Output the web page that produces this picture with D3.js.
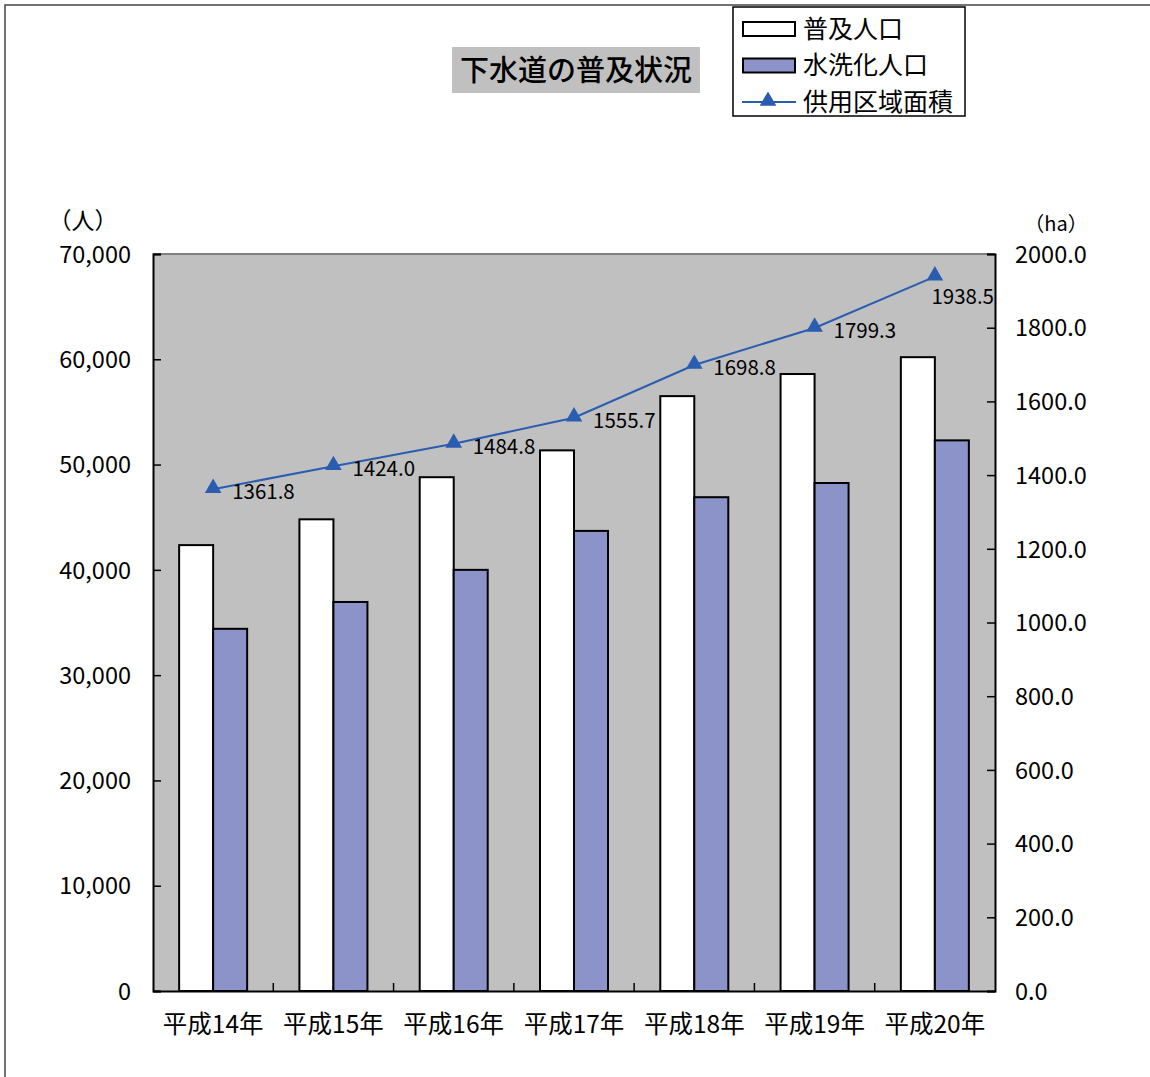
<!DOCTYPE html>
<html>
<head>
<meta charset="utf-8">
<script src="https://cdn.jsdelivr.net/npm/d3@7"></script>
<style>
  body { margin: 0; background: #fff; }
  svg text { font-family: "Noto Sans CJK JP", "Noto Sans", sans-serif; fill: #000; }
</style>
</head>
<body>
<svg width="1150" height="1077"></svg>
<script>
// data
var years = ["平成14年", "平成15年", "平成16年", "平成17年", "平成18年", "平成19年", "平成20年"];
var fukyu = [42350, 44800, 48800, 51350, 56500, 58600, 60200];     // 普及人口
var suisen = [34400, 36950, 40000, 43700, 46900, 48250, 52300];    // 水洗化人口
var area = [1361.8, 1424.0, 1484.8, 1555.7, 1698.8, 1799.3, 1938.5]; // 供用区域面積 (ha)
var leftTicks = [0, 10000, 20000, 30000, 40000, 50000, 60000, 70000];
var rightTicks = [0, 200, 400, 600, 800, 1000, 1200, 1400, 1600, 1800, 2000];

var svg = d3.select("svg"),
    plot = {left: 153, right: 995, top: 254, bottom: 991};

var x = d3.scaleBand().domain(years).range([plot.left, plot.right]),
    yL = d3.scaleLinear().domain([0, 70000]).range([plot.bottom, plot.top]),
    yR = d3.scaleLinear().domain([0, 2000]).range([plot.bottom, plot.top]);

var barW = 34,
    blue = "#8b93c8",
    lineColor = "#2a5db0";

// outer frame
svg.append("path")
    .attr("d", "M5,1077V5H1150")
    .attr("fill", "none")
    .attr("stroke", "#444")
    .attr("stroke-width", 1.5);

// plot background
svg.append("rect")
    .attr("x", plot.left).attr("y", plot.top)
    .attr("width", plot.right - plot.left).attr("height", plot.bottom - plot.top)
    .attr("fill", "#c0c0c0");
svg.append("line")
    .attr("x1", plot.left).attr("x2", plot.right)
    .attr("y1", plot.top).attr("y2", plot.top)
    .attr("stroke", "#808080").attr("stroke-width", 2);

// bars
var g = svg.append("g");
g.selectAll(".b1").data(fukyu).enter().append("rect")
    .attr("x", function(d, i) { return x(years[i]) + x.bandwidth() / 2 - barW; })
    .attr("y", function(d) { return yL(d); })
    .attr("width", barW)
    .attr("height", function(d) { return yL(0) - yL(d); })
    .attr("fill", "#fff").attr("stroke", "#000").attr("stroke-width", 2);
g.selectAll(".b2").data(suisen).enter().append("rect")
    .attr("x", function(d, i) { return x(years[i]) + x.bandwidth() / 2; })
    .attr("y", function(d) { return yL(d); })
    .attr("width", barW)
    .attr("height", function(d) { return yL(0) - yL(d); })
    .attr("fill", blue).attr("stroke", "#000").attr("stroke-width", 2);

// axes
var axL = svg.append("g")
    .attr("transform", "translate(" + plot.left + ",0)")
    .call(d3.axisLeft(yL).tickValues(leftTicks).tickSize(-8).tickPadding(22)
      .tickFormat(d3.format(",")));
var axR = svg.append("g")
    .attr("transform", "translate(" + plot.right + ",0)")
    .call(d3.axisRight(yR).tickValues(rightTicks).tickSize(-8).tickPadding(20)
      .tickFormat(d3.format(".1f")));
var axB = svg.append("g")
    .attr("transform", "translate(0," + plot.bottom + ")")
    .call(d3.axisBottom(x).tickSize(0).tickPadding(25));

[axL, axR].forEach(function(a) {
  a.select(".domain").attr("stroke", "#000").attr("stroke-width", 2);
  a.selectAll(".tick line").attr("stroke", "#000").attr("stroke-width", 1.5);
  a.selectAll("text").style("font-size", "23.5px").attr("dy", "0.35em");
});
axB.select(".domain").attr("stroke", "#000").attr("stroke-width", 2);
axB.selectAll("text").style("font-size", "24.5px").attr("dy", "0.71em");

// category separator ticks (pointing up)
svg.append("g").selectAll("line")
    .data(years.slice(1)).enter().append("line")
    .attr("x1", function(d) { return x(d); }).attr("x2", function(d) { return x(d); })
    .attr("y1", plot.bottom).attr("y2", plot.bottom - 8)
    .attr("stroke", "#000").attr("stroke-width", 1.5);

// unit labels
svg.append("text").attr("x", 83).attr("y", 221).attr("text-anchor", "middle")
    .attr("dy", "0.35em").style("font-size", "23px").text("（人）");
svg.append("text").attr("x", 1056).attr("y", 224).attr("text-anchor", "middle")
    .attr("dy", "0.35em").style("font-size", "20px").text("（ha）");

// line series
var cx = function(i) { return x(years[i]) + x.bandwidth() / 2; };
svg.append("path")
    .datum(area)
    .attr("fill", "none").attr("stroke", lineColor).attr("stroke-width", 2)
    .attr("d", d3.line().x(function(d, i) { return cx(i); }).y(function(d) { return yR(d); }));
var tri = d3.symbol().type(d3.symbolTriangle).size(120);
svg.append("g").selectAll("path")
    .data(area).enter().append("path")
    .attr("transform", function(d, i) { return "translate(" + cx(i) + "," + (yR(d) - 1) + ")"; })
    .attr("d", tri)
    .attr("fill", lineColor);

// data labels: to the right of the marker, pushed below when it would run off the plot
svg.append("g").selectAll("text")
    .data(area).enter().append("text")
    .each(function(d, i) {
      var t = d3.select(this).text(d.toFixed(1)).style("font-size", "20.5px");
      if (cx(i) + 19 + 64 > plot.right) {
        t.attr("x", plot.right - 1).attr("y", yR(d) + 20).attr("text-anchor", "end").attr("dy", "0.35em");
      } else {
        t.attr("x", cx(i) + 19).attr("y", yR(d) + 3).attr("dy", "0.35em");
      }
    });

// title
svg.append("rect").attr("x", 452).attr("y", 47).attr("width", 248).attr("height", 46)
    .attr("fill", "#c0c0c0");
svg.append("text").attr("x", 576).attr("y", 71).attr("text-anchor", "middle")
    .attr("dy", "0.35em").style("font-size", "29px").style("font-weight", "500")
    .text("下水道の普及状況");

// legend
var legend = svg.append("g");
legend.append("rect").attr("x", 733).attr("y", 7).attr("width", 232).attr("height", 109)
    .attr("fill", "#fff").attr("stroke", "#000").attr("stroke-width", 1.5);
var items = [
  {name: "普及人口", type: "bar", fill: "#fff"},
  {name: "水洗化人口", type: "bar", fill: blue},
  {name: "供用区域面積", type: "line"}
];
items.forEach(function(it, i) {
  var cy = 29 + i * 36.5;
  if (it.type === "bar") {
    legend.append("rect").attr("x", 743).attr("y", cy - 7).attr("width", 52).attr("height", 14)
      .attr("fill", it.fill).attr("stroke", "#000").attr("stroke-width", 2);
  } else {
    legend.append("line").attr("x1", 742).attr("x2", 796).attr("y1", cy).attr("y2", cy)
      .attr("stroke", lineColor).attr("stroke-width", 2);
    legend.append("path").attr("transform", "translate(768," + (cy - 1) + ")")
      .attr("d", tri).attr("fill", lineColor);
  }
  legend.append("text").attr("x", 803).attr("y", cy).attr("dy", "0.35em")
    .style("font-size", "25px").text(it.name);
});
</script>
</body>
</html>
